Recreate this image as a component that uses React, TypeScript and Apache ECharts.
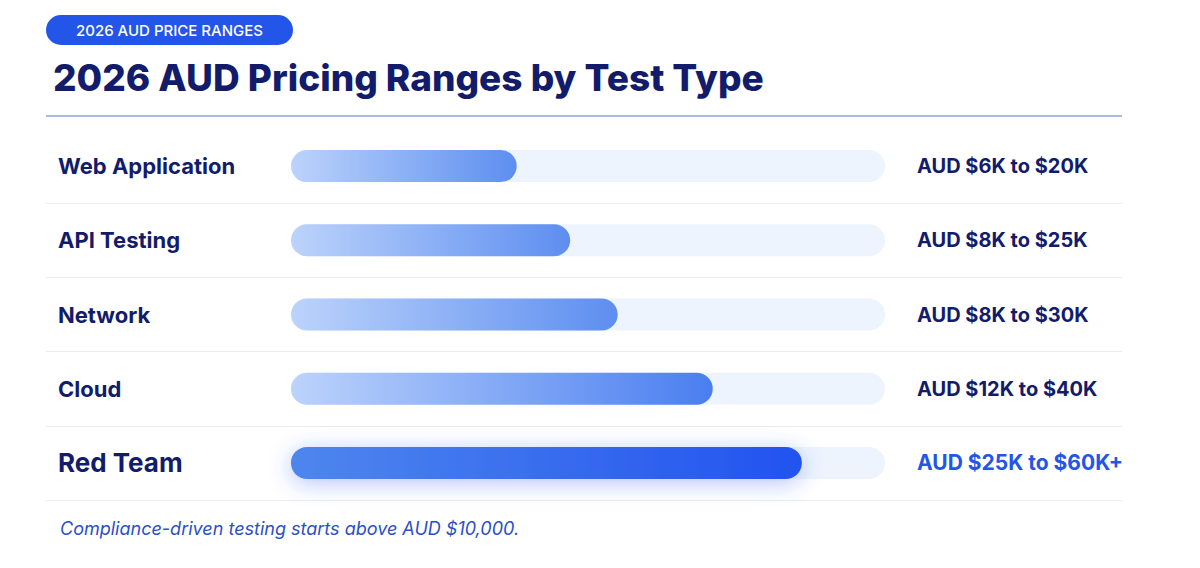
import React, { useEffect, useRef } from 'react';
import * as echarts from 'echarts';

const categories = ['Web Application', 'API Testing', 'Network', 'Cloud', 'Red Team'];
const rangeLabels = ['AUD $6K to $20K', 'AUD $8K to $25K', 'AUD $8K to $30K', 'AUD $12K to $40K', 'AUD $25K to $60K+'];
// bar length as a share of the track
const barValues = [38, 47, 55, 71, 86];
const highlightIndex = 4;

const NAVY = '#131b6b';
const BLUE = '#2356e8';
const FONT = 'Inter, "Noto Sans", sans-serif';

const App: React.FC = () => {
  const chartRef = useRef<HTMLDivElement | null>(null);

  useEffect(() => {
    if (!chartRef.current) return;
    const chart = echarts.init(chartRef.current, null, { renderer: 'svg' });

    const barData = barValues.map((v, i) => {
      const hot = i === highlightIndex;
      return {
        value: v,
        itemStyle: {
          color: new echarts.graphic.LinearGradient(0, 0, 1, 0, hot
            ? [{ offset: 0, color: '#4f86ee' }, { offset: 1, color: '#2253ef' }]
            : [{ offset: 0, color: '#bcd3fb' }, { offset: 1, color: i === 3 ? '#4a7ef0' : '#5d8ef0' }]),
          borderRadius: 16,
          shadowBlur: hot ? 22 : 0,
          shadowOffsetY: hot ? 4 : 0,
          shadowColor: hot ? 'rgba(37, 85, 235, 0.35)' : 'transparent',
        },
      };
    });

    const option: echarts.EChartsOption = {
      animation: false,
      backgroundColor: '#ffffff',
      title: [
        {
          text: '2026 AUD PRICE RANGES',
          left: 46,
          top: 15,
          padding: [7, 30],
          backgroundColor: BLUE,
          borderRadius: 15,
          textStyle: { color: '#ffffff', fontSize: 15, fontWeight: 500, fontFamily: FONT, lineHeight: 16 },
        },
      ],
      graphic: [
        {
          type: 'text',
          style: {
            text: '2026 AUD Pricing Ranges by Test Type',
            x: 53,
            y: 77,
            font: `800 37px ${FONT}`,
            fill: NAVY,
            textVerticalAlign: 'middle',
          },
        },
        {
          type: 'line',
          shape: { x1: 46, y1: 116, x2: 1122, y2: 116 },
          style: { stroke: '#8aa6d6', lineWidth: 1.5 },
        },
        {
          type: 'text',
          style: {
            text: 'Compliance-driven testing starts above AUD $10,000.',
            x: 60,
            y: 528,
            font: `italic 400 18px ${FONT}`,
            fill: '#2b4fc6',
            textVerticalAlign: 'middle',
          },
        },
      ],
      grid: [
        { left: 46, right: 78, top: 129, bottom: 68 },
        { left: 291, right: 315, top: 129, bottom: 68 },
      ],
      xAxis: [
        { type: 'value', gridIndex: 0, show: false, max: 100 },
        { type: 'value', gridIndex: 1, show: false, max: 100 },
      ],
      yAxis: [
        {
          // row separators across the full width
          type: 'category',
          gridIndex: 0,
          data: categories,
          inverse: true,
          axisLine: { show: false },
          axisTick: { show: false },
          axisLabel: { show: false },
          splitLine: {
            show: true,
            interval: (index: number) => index > 0,
            lineStyle: { color: '#e9ecf1', width: 1 },
          },
        },
        {
          type: 'category',
          gridIndex: 1,
          data: categories,
          inverse: true,
          axisLine: { show: false },
          axisTick: { show: false },
          splitLine: { show: false },
          axisLabel: {
            align: 'left',
            margin: 233,
            formatter: (v: string, i: number) => (i === highlightIndex ? `{big|${v}}` : `{norm|${v}}`),
            rich: {
              norm: { fontSize: 22, fontWeight: 700, color: NAVY, fontFamily: FONT },
              big: { fontSize: 26, fontWeight: 700, color: NAVY, fontFamily: FONT },
            },
          },
        },
        {
          type: 'category',
          gridIndex: 1,
          position: 'right',
          data: rangeLabels,
          inverse: true,
          axisLine: { show: false },
          axisTick: { show: false },
          splitLine: { show: false },
          axisLabel: {
            align: 'left',
            margin: 32,
            formatter: (v: string, i: number) => (i === highlightIndex ? `{hot|${v}}` : `{norm|${v}}`),
            rich: {
              norm: { fontSize: 20, fontWeight: 700, color: NAVY, fontFamily: FONT },
              hot: { fontSize: 21, fontWeight: 700, color: BLUE, fontFamily: FONT },
            },
          },
        },
      ],
      series: [
        {
          type: 'bar',
          xAxisIndex: 1,
          yAxisIndex: 1,
          barWidth: 32,
          showBackground: true,
          backgroundStyle: { color: '#eef4fd', borderRadius: 16 },
          data: barData,
        },
      ],
    };

    chart.setOption(option);
    return () => {
      chart.dispose();
    };
  }, []);

  return (
    <div
      ref={chartRef}
      style={{ position: 'fixed', left: 0, top: 0, width: '1200px', height: '568px', background: '#fff' }}
    />
  );
};

export default App;
